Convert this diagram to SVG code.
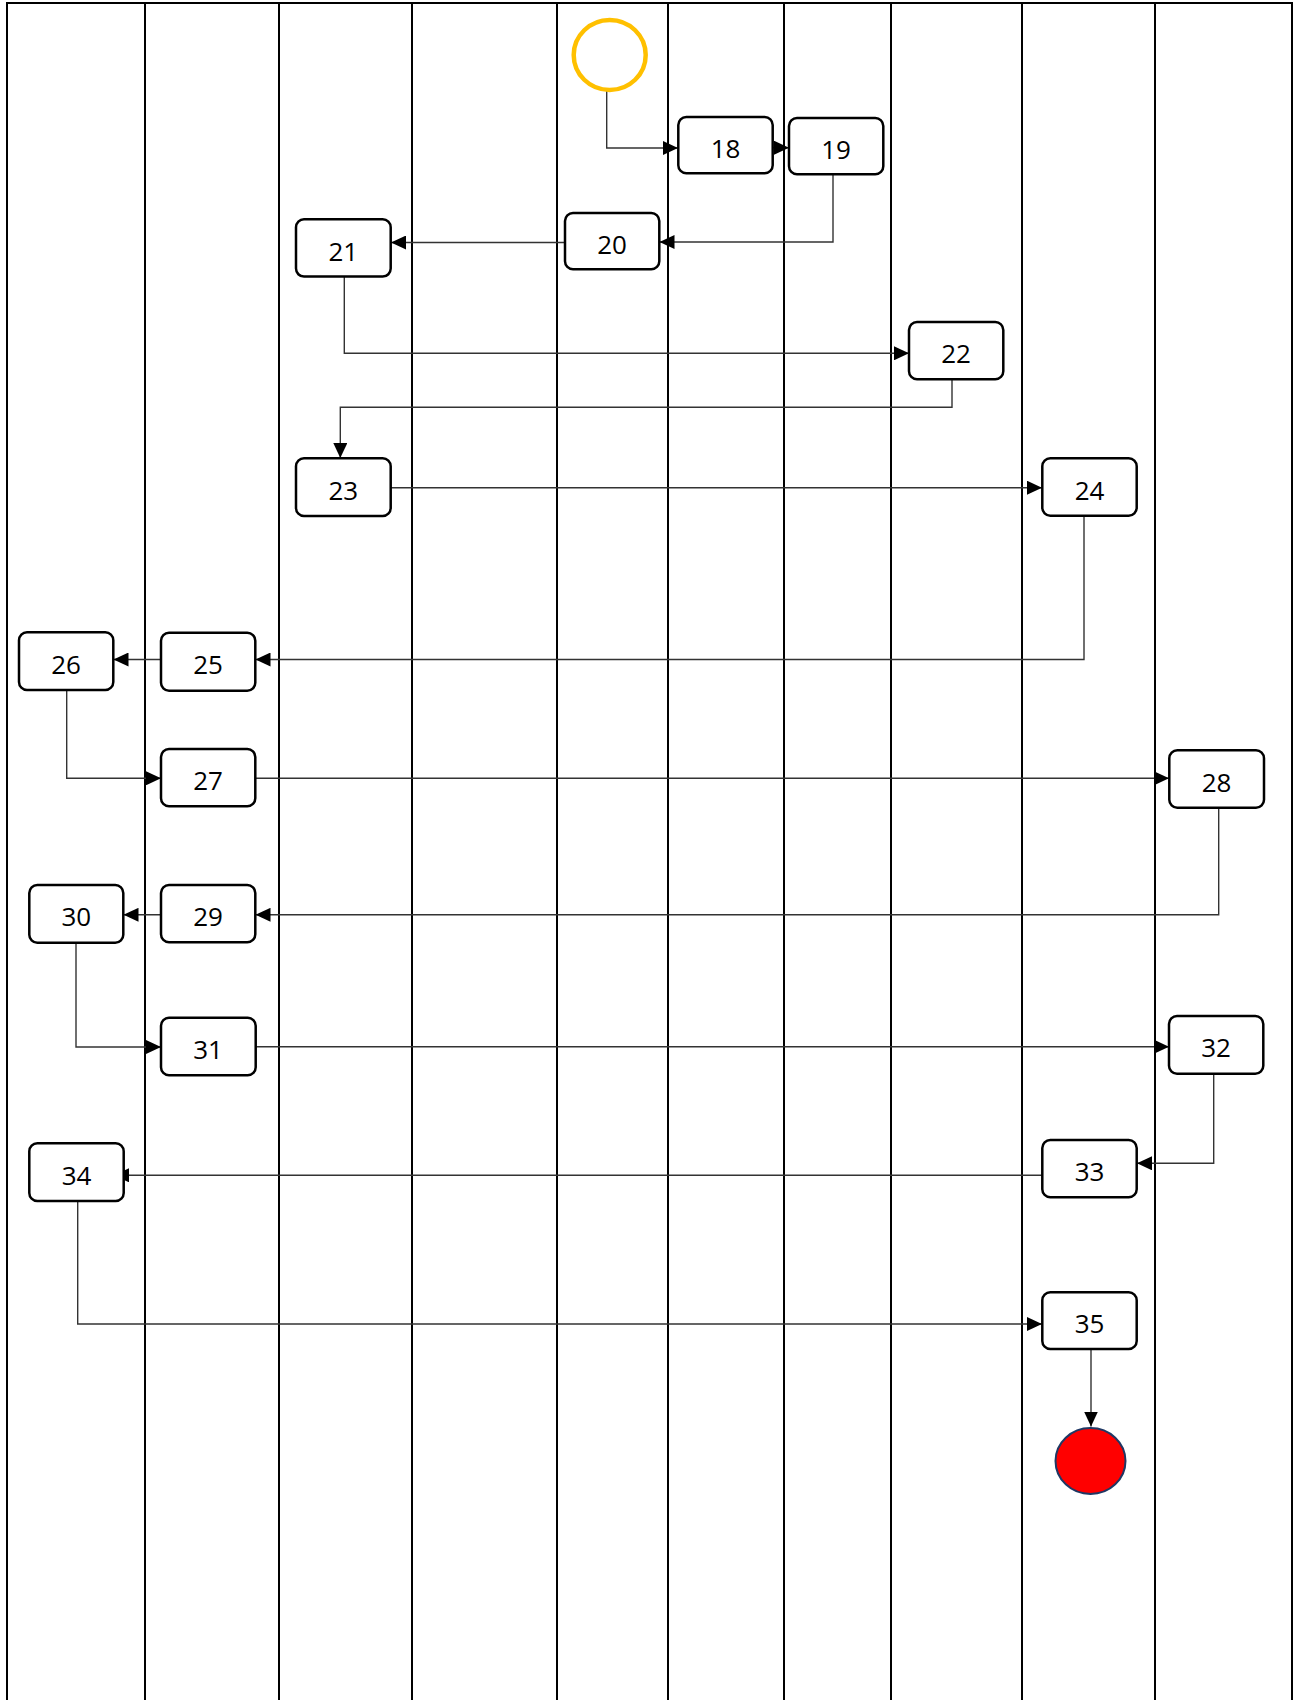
<svg xmlns="http://www.w3.org/2000/svg" width="1294" height="1700" viewBox="0 0 1294 1700">
<style>
.lane{stroke:#000;stroke-width:2;fill:none}
.node rect{fill:#fff;stroke:#000;stroke-width:2.5}
.node text{font-family:"Open Sans","Noto Sans",sans-serif;font-size:26px;fill:#000;text-anchor:middle}
.conn path{fill:none;stroke:#333;stroke-width:1.4;marker-end:url(#arr)}
</style>
<defs>
<marker id="arr" markerUnits="userSpaceOnUse" markerWidth="16" markerHeight="14" refX="15" refY="7" orient="auto">
<path d="M0,0 L15,7 L0,14 z" fill="#000"/>
</marker>
</defs>
<rect width="1294" height="1700" fill="#fff"/>
<g id="lanes">
<line class="lane" x1="6" y1="3" x2="1293" y2="3"/>
<line class="lane" x1="7" y1="3" x2="7" y2="1700"/>
<line class="lane" x1="145" y1="3" x2="145" y2="1700"/>
<line class="lane" x1="279" y1="3" x2="279" y2="1700"/>
<line class="lane" x1="412" y1="3" x2="412" y2="1700"/>
<line class="lane" x1="557" y1="3" x2="557" y2="1700"/>
<line class="lane" x1="668" y1="3" x2="668" y2="1700"/>
<line class="lane" x1="784" y1="3" x2="784" y2="1700"/>
<line class="lane" x1="891" y1="3" x2="891" y2="1700"/>
<line class="lane" x1="1022" y1="3" x2="1022" y2="1700"/>
<line class="lane" x1="1155" y1="3" x2="1155" y2="1700"/>
<line class="lane" x1="1292" y1="3" x2="1292" y2="1700"/>
</g>
<g id="connectors" class="conn">
<path d="M606.7,89 V148 H678"/>
<path d="M772.7,147.7 H789"/>
<path d="M833,174 V242 H659.5"/>
<path d="M565,242.5 H391"/>
<path d="M344.3,276.5 V353.3 H909"/>
<path d="M952,379.5 V407.3 H340.3 V458"/>
<path d="M391,487.7 H1042"/>
<path d="M1084,516 V659.5 H255.5"/>
<path d="M161,659.5 H113.5"/>
<path d="M66.7,690 V778.3 H161"/>
<path d="M255.5,778.3 H1169"/>
<path d="M1218.7,807.7 V914.8 H255.5"/>
<path d="M161,914.8 H123.5"/>
<path d="M76,943 V1047 H161"/>
<path d="M255.7,1046.7 H1169"/>
<path d="M1213.7,1073.7 V1163.3 H1137"/>
<path d="M1042,1175.3 H114"/>
<path d="M77.7,1201 V1324 H1042"/>
<path d="M1091,1349 V1426.5"/>
</g>
<g id="start"><ellipse cx="609.7" cy="55" rx="36" ry="35" fill="#fff" stroke="#FFC000" stroke-width="4.5"/></g>
<g id="end"><ellipse cx="1090.5" cy="1461" rx="35" ry="33" fill="#FF0000" stroke="#1F3864" stroke-width="2"/></g>
<g id="n18" class="node"><rect x="678.3" y="117" width="94.4" height="56.3" rx="8"/><text x="725.5" y="157.5">18</text></g>
<g id="n19" class="node"><rect x="789" y="118" width="94.3" height="56.3" rx="8"/><text x="836" y="158.5">19</text></g>
<g id="n20" class="node"><rect x="565" y="213" width="94.3" height="56.3" rx="8"/><text x="612" y="254">20</text></g>
<g id="n21" class="node"><rect x="296" y="219.3" width="94.7" height="57.3" rx="8"/><text x="343.3" y="260.5">21</text></g>
<g id="n22" class="node"><rect x="909" y="322" width="94.3" height="57.3" rx="8"/><text x="956" y="363">22</text></g>
<g id="n23" class="node"><rect x="296" y="458.3" width="94.7" height="57.7" rx="8"/><text x="343.3" y="499.5">23</text></g>
<g id="n24" class="node"><rect x="1042.3" y="458.3" width="94.4" height="57.4" rx="8"/><text x="1089.5" y="499.5">24</text></g>
<g id="n25" class="node"><rect x="161" y="632.7" width="94.3" height="58" rx="8"/><text x="208" y="674">25</text></g>
<g id="n26" class="node"><rect x="19" y="632.3" width="94.3" height="57.7" rx="8"/><text x="66" y="673.5">26</text></g>
<g id="n27" class="node"><rect x="161" y="749" width="94.3" height="57.3" rx="8"/><text x="208" y="790">27</text></g>
<g id="n28" class="node"><rect x="1169.3" y="750.3" width="94.7" height="57.4" rx="8"/><text x="1216.5" y="791.5">28</text></g>
<g id="n29" class="node"><rect x="161" y="885" width="94.3" height="57.3" rx="8"/><text x="208" y="926">29</text></g>
<g id="n30" class="node"><rect x="29.3" y="885" width="94" height="57.7" rx="8"/><text x="76.3" y="926">30</text></g>
<g id="n31" class="node"><rect x="161" y="1017.7" width="94.7" height="57.6" rx="8"/><text x="208" y="1058.5">31</text></g>
<g id="n32" class="node"><rect x="1169" y="1016" width="94.3" height="57.7" rx="8"/><text x="1216" y="1057">32</text></g>
<g id="n33" class="node"><rect x="1042.3" y="1140" width="94.4" height="57.3" rx="8"/><text x="1089.5" y="1181">33</text></g>
<g id="n34" class="node"><rect x="29.3" y="1143.3" width="94.4" height="57.7" rx="8"/><text x="76.5" y="1184.5">34</text></g>
<g id="n35" class="node"><rect x="1042.3" y="1292.3" width="94.4" height="56.7" rx="8"/><text x="1089.5" y="1333">35</text></g>
</svg>
